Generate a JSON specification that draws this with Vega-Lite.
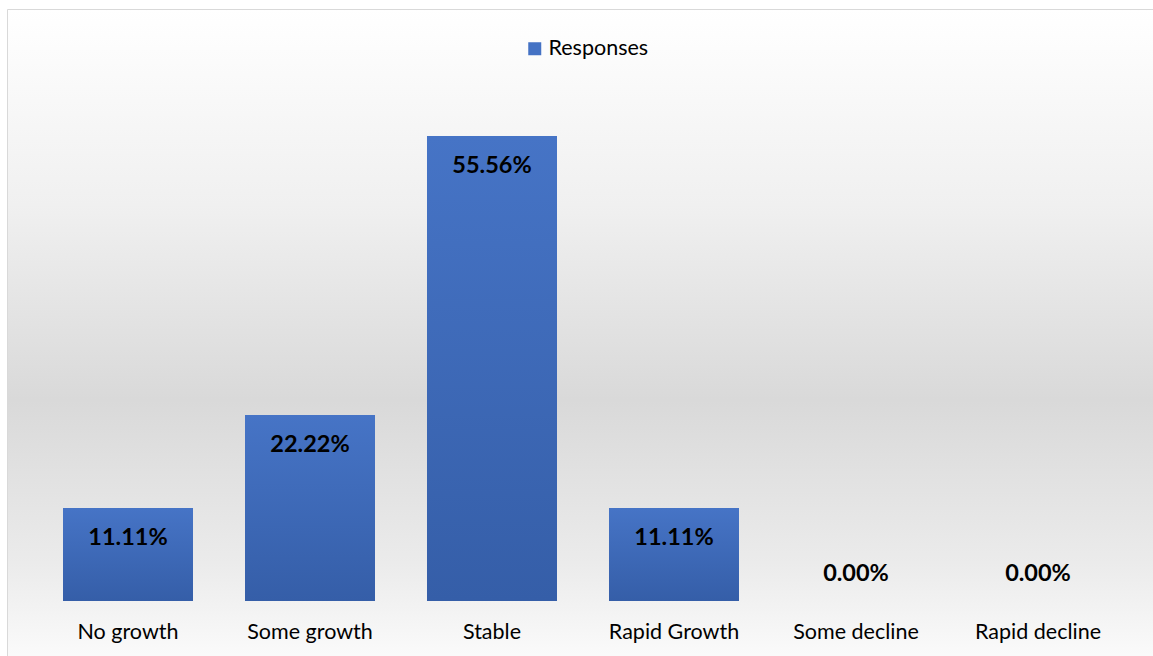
{
  "$schema": "https://vega.github.io/schema/vega-lite/v6.json",
  "width": 1152,
  "height": 651,
  "padding": {"left": 7, "top": 9, "right": 0, "bottom": 0},
  "background": "#ffffff",
  "config": {
    "font": "Lato",
    "view": {
      "stroke": "#d9d9d9",
      "strokeWidth": 1,
      "fill": {
        "gradient": "linear", "x1": 0, "y1": 0, "x2": 0, "y2": 1,
        "stops": [
          {"offset": 0, "color": "#ffffff"},
          {"offset": 0.3, "color": "#f0f0f0"},
          {"offset": 0.6, "color": "#d9d9d9"},
          {"offset": 0.85, "color": "#ebebeb"},
          {"offset": 1, "color": "#fbfbfb"}
        ]
      }
    }
  },
  "data": {
    "values": [
      {"category": "No growth", "share": 0.1111, "series": "Responses"},
      {"category": "Some growth", "share": 0.2222, "series": "Responses"},
      {"category": "Stable", "share": 0.5556, "series": "Responses"},
      {"category": "Rapid Growth", "share": 0.1111, "series": "Responses"},
      {"category": "Some decline", "share": 0, "series": "Responses"},
      {"category": "Rapid decline", "share": 0, "series": "Responses"}
    ]
  },
  "encoding": {
    "x": {
      "field": "category", "type": "nominal", "sort": null,
      "scale": {"paddingInner": 0.2857, "paddingOuter": 0.3077},
      "axis": {
        "title": null, "labelAngle": 0, "domain": false, "ticks": false, "tickSize": 0,
        "labelPadding": 0, "offset": -22, "labelBaseline": "alphabetic",
        "labelFont": "Lato", "labelFontSize": 21.5, "labelColor": "#000000"
      }
    },
    "y": {
      "field": "share", "type": "quantitative",
      "scale": {"domain": [-0.0705, 0.7073], "nice": false, "zero": false},
      "axis": null
    }
  },
  "layer": [
    {
      "mark": {
        "type": "bar",
        "fill": {
          "gradient": "linear", "x1": 0, "y1": 0, "x2": 0, "y2": 1,
          "stops": [
            {"offset": 0, "color": "#4674c6"},
            {"offset": 1, "color": "#355ea8"}
          ]
        }
      },
      "encoding": {
        "color": {
          "field": "series", "type": "nominal",
          "scale": {"range": ["#4472c4"]},
          "legend": {
            "title": null, "orient": "none", "legendX": 517, "legendY": 29,
            "direction": "horizontal", "padding": 0,
            "symbolType": "square", "symbolSize": 169, "symbolStrokeWidth": 0,
            "labelFont": "Lato", "labelFontSize": 21.5, "labelColor": "#000000", "labelOffset": 3
          }
        }
      }
    },
    {
      "transform": [{"filter": "datum.share > 0"}],
      "mark": {"type": "text", "baseline": "alphabetic", "dy": 37, "font": "Lato", "fontSize": 23.5, "fontWeight": "bold", "color": "#000000"},
      "encoding": {"text": {"field": "share", "type": "quantitative", "format": ".2%"}}
    },
    {
      "transform": [{"filter": "datum.share == 0"}],
      "mark": {"type": "text", "baseline": "alphabetic", "dy": -20, "font": "Lato", "fontSize": 23.5, "fontWeight": "bold", "color": "#000000"},
      "encoding": {"text": {"field": "share", "type": "quantitative", "format": ".2%"}}
    }
  ]
}
